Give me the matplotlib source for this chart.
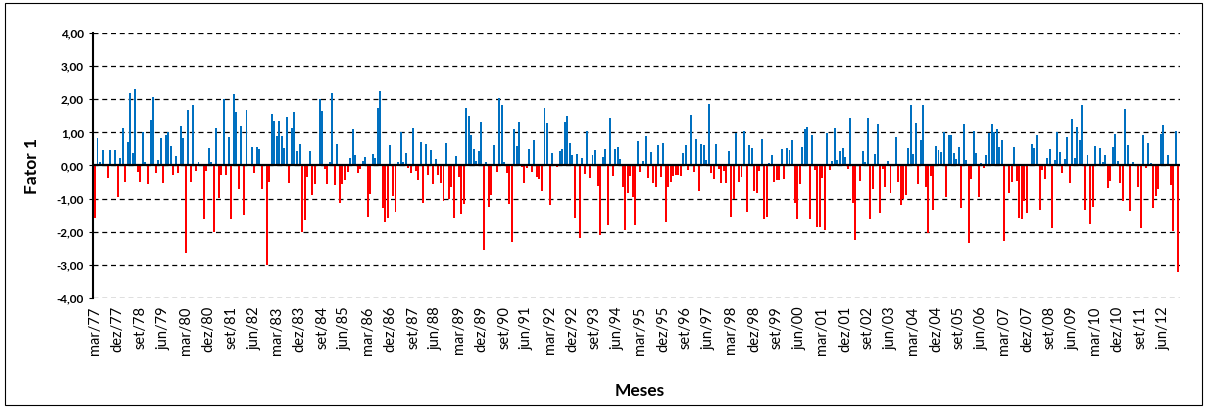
import numpy as np
import matplotlib.pyplot as plt
from matplotlib.patches import Rectangle

plt.rcParams['font.family'] = ['Lato', 'DejaVu Sans']

# Fator 1, valores mensais de mar/77 a dez/12
fator1 = [
    -1.6, 0.82, 0.1, 0.47, 0.05, -0.38, 0.47, 0.0, 0.47, -0.95, 0.22, 1.12, -0.5, 0.7, 2.2, 0.37, 2.32, -0.2,
    -0.5, 1.0, 0.1, -0.57, 1.38, 2.08, -0.24, 0.15, 0.82, -0.52, 0.93, 1.0, 0.6, -0.3, 0.3, -0.24, 1.18,
    0.84, -2.65, 1.67, -0.5, 1.84, -0.17, 0.1, 0.0, -1.63, -0.17, 0.53, 0.09, -2.0, 1.12, -0.98, -0.28, 2.0, -0.28,
    0.87, -1.63, 2.17, 1.6, -0.7, 1.2, -1.5, 1.66, 0.0, 0.57, -0.22, 0.56, 0.51, -0.7, 0.03, -3.0, -0.5, 1.54,
    1.35, 0.9, 1.34, 0.9, 0.53, 1.45, -0.52, 1.14, 1.6, 0.45, 0.66, -2.0, -1.66, -0.35, 0.43, -0.9, -0.55, 0.03,
    2.0, 1.64, -0.11, -0.55, 0.09, 2.18, -0.6, 0.65, -1.12, -0.55, -0.45, -0.2, 0.23, 1.09, 0.33, -0.24, -0.11, 0.13,
    0.26, -1.55, -0.86, 0.36, 0.21, 1.74, 2.24, -1.3, -1.7, -1.58, 0.63, -0.91, -1.42, 0.09, 1.02, 0.09, 0.39, -0.09,
    -0.24, 1.14, -0.17, -0.45, 0.71, -1.12, 0.66, -0.3, 0.46, -0.55, 0.19, -0.3, -0.52, -1.08, 0.69, -1.02, -0.65, -1.6,
    0.29, -0.35, -1.48, -1.15, 1.75, 1.49, 0.93, 0.51, 0.14, 0.44, 1.32, -2.55, 0.09, -1.26, -0.9, 0.61, -0.21, 2.05,
    1.82, 0.11, -0.22, -1.16, -2.3, 1.1, 0.58, 1.32, -0.04, -0.52, -0.09, 0.51, -0.19, 0.78, -0.36, -0.41, -0.77,
    1.74, 1.27, -1.2, 0.39, 0.0, -0.06, 0.45, 0.51, 1.3, 1.5, 0.68, 0.31, -1.6, 0.36, -2.2, 0.21, -0.27, 1.05,
    -0.37, 0.33, 0.48, -0.61, -2.1, 0.26, 0.5, -1.8, 1.42, -0.31, 0.51, 0.57, 0.19, -0.64, -1.95, -0.84, -0.31, -0.94,
    -1.8, 0.73, -0.21, 0.13, 0.88, -0.37, 0.41, -0.52, -0.64, 0.63, -0.36, 0.67, -1.7, -0.64, -0.49, -0.31, -0.29, -0.29,
    -0.31, 0.39, 0.61, -0.14, 1.51, -0.19, 0.81, -0.76, 0.64, 0.61, 0.16, 1.87, -0.24, -0.41, 0.65, -0.11, -0.54,
    -0.16, -0.52, 0.43, -1.57, -1.02, 0.99, -0.49, -0.34, 1.04, -1.42, 0.61, 0.54, -0.76, -0.84, -0.16, 0.81, -1.63, -1.55,
    0.06, 0.33, -0.51, -0.44, -0.44, 0.51, -0.41, 0.54, 0.47, 0.78, -1.13, -1.63, -0.56, 0.56, 1.09, 1.15, -1.63, 0.93,
    -0.14, -1.85, -1.85, -0.39, -1.95, 0.99, -0.14, 0.13, 1.14, 0.16, 0.45, 0.54, 0.26, -0.11, 1.42, -1.12, -2.25, 0.03,
    -0.47, 0.45, 0.11, 1.42, -1.62, -0.72, 0.35, 1.24, -1.43, -0.11, -0.66, 0.13, -0.84, 0.0, 0.87, -0.49, -1.2, -1.02,
    -0.9, 0.53, 1.82, 0.34, 1.27, -0.56, 0.76, 1.82, -0.66, -2.03, -0.31, -1.36, 0.59, 0.48, 0.4, 1.0, -0.94, 0.92,
    0.93, 0.39, 0.19, 0.56, -1.3, 1.25, 0.16, -2.35, -0.41, 1.05, 0.39, -0.94, 0.08, -0.07, 0.33, 0.99, 1.25, 1.0,
    1.1, 0.55, 0.78, -2.28, 0.0, -0.84, -0.49, 0.57, -0.46, -1.58, -1.62, -1.08, -1.45, 0.03, 0.66, 0.53, 0.93, -1.36,
    -0.14, -0.41, 0.24, 0.51, -1.9, 0.17, 1.02, 0.41, -0.22, 0.18, 0.87, -0.54, 1.39, 0.23, 1.15, 0.76, 1.84, -1.35,
    0.31, -1.77, -1.25, 0.59, 0.0, 0.54, 0.09, 0.33, -0.67, -0.46, 0.56, 0.94, 0.13, -0.54, -1.07, 1.72, 0.61, -1.37,
    0.11, 0.0, -0.64, -1.88, 0.92, -0.09, 0.68, 0.06, -1.28, -0.91, -0.72, 0.95, 1.21, 0.0, 0.31, -0.59, -1.98, 1.03, -3.23,
]

# rótulos do eixo x, um a cada 9 meses
rotulos_x = [
    'mar/77', 'dez/77', 'set/78', 'jun/79', 'mar/80', 'dez/80', 'set/81', 'jun/82',
    'mar/83', 'dez/83', 'set/84', 'jun/85', 'mar/86', 'dez/86', 'set/87', 'jun/88',
    'mar/89', 'dez/89', 'set/90', 'jun/91', 'mar/92', 'dez/92', 'set/93', 'jun/94',
    'mar/95', 'dez/95', 'set/96', 'jun/97', 'mar/98', 'dez/98', 'set/99', 'jun/00',
    'mar/01', 'dez/01', 'set/02', 'jun/03', 'mar/04', 'dez/04', 'set/05', 'jun/06',
    'mar/07', 'dez/07', 'set/08', 'jun/09', 'mar/10', 'dez/10', 'set/11', 'jun/12',
]
passo_rotulo = 9

y = np.array(fator1)
x = np.arange(len(y))
cores = np.where(y >= 0, '#0070C0', '#FF0000')

fig = plt.figure(figsize=(12.07, 4.08), dpi=100)
ax = fig.add_axes([0.077, 0.270, 0.901, 0.649])

ax.bar(x, y, width=0.78, color=cores, zorder=3)
ax.axhline(0, color='black', lw=1.6, zorder=4)

ax.set_ylim(-4, 4)
ax.set_xlim(-0.8, len(y) - 0.2)
niveis = np.arange(-4, 5, 1)
ax.set_yticks(niveis)
ax.set_yticklabels([('%.2f' % v).replace('.', ',') for v in niveis],
                   fontsize=8.5, fontweight='bold')
ax.yaxis.grid(True, ls=(0, (4, 3)), color='black', lw=0.9, zorder=0)

ax.set_xticks(x[::passo_rotulo][:len(rotulos_x)])
ax.set_xticklabels(rotulos_x, rotation=90, fontsize=10.5)
ax.tick_params(axis='x', length=0, pad=6)
ax.tick_params(axis='y', length=3, direction='out')

for s in ['top', 'right', 'bottom']:
    ax.spines[s].set_visible(False)
ax.spines['left'].set_linewidth(1.5)

ax.set_ylabel('Fator 1', fontsize=12.5, fontweight='bold', labelpad=12)
fig.text(0.53, 0.03, 'Meses', ha='center', fontsize=12.5, fontweight='bold')

# moldura do gráfico
fig.patches.append(Rectangle((0.004, 0.008), 0.992, 0.984, transform=fig.transFigure,
                             fill=False, edgecolor='black', lw=0.8))

fig.savefig('out.png', dpi=100)
